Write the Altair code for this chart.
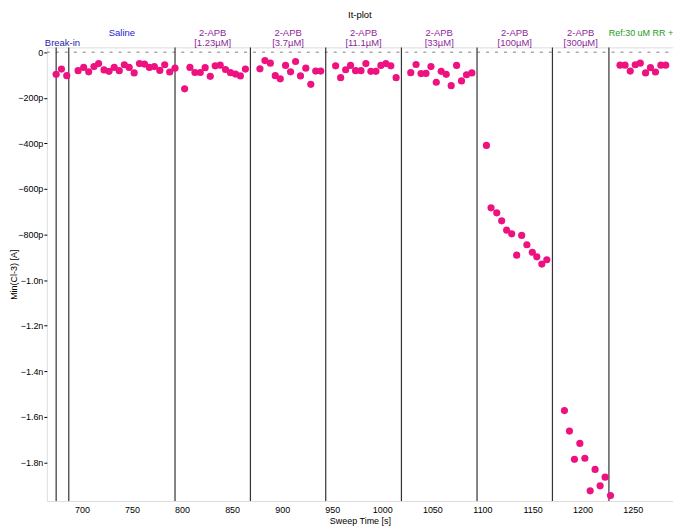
import altair as alt
import pandas as pd

# ---- data (sweep time [s], min current [pA]) ----
breakin_t = [674.3, 679.6, 684.9]
breakin_v = [-97, -74, -103]

saline_t = [696.2, 701.8, 706.8, 712.1, 716.7, 722.1, 727.1, 732.3, 737.3, 742.4,
            747.2, 752.2, 757.5, 762.5, 767.4, 772.4, 777.8, 782.7, 787.7, 793.0]
saline_v = [-81, -67, -86, -63, -50, -78, -84, -67, -81, -55,
            -67, -91, -50, -52, -67, -63, -80, -55, -87, -70]

apb1_t = [802.6, 807.9, 812.9, 818.2, 823.1, 828.2, 833.1, 838.1, 843.4, 848.4, 853.4, 858.3, 863.3]
apb1_v = [-161, -67, -89, -89, -68, -106, -60, -57, -76, -90, -96, -104, -74]

apb2_t = [877.8, 882.8, 888.2, 893.1, 898.1, 903.4, 908.4, 913.4, 918.3, 923.6, 928.6, 933.5, 938.5]
apb2_v = [-73, -37, -48, -103, -117, -58, -86, -41, -104, -70, -141, -83, -83]

apb3_t = [953.4, 958.4, 963.4, 968.3, 973.3, 978.7, 983.6, 988.6, 993.6, 998.6, 1003.5, 1008.5, 1013.8]
apb3_v = [-60, -112, -77, -58, -81, -81, -50, -84, -84, -58, -50, -60, -112]

apb4_t = [1028.4, 1033.7, 1038.7, 1043.6, 1048.6, 1053.9, 1058.8, 1063.8, 1068.8, 1074.2, 1079.1, 1084.1, 1089.4]
apb4_v = [-90, -54, -94, -93, -63, -132, -84, -97, -147, -58, -126, -99, -91]

apb5_t = [1104.0, 1108.6, 1114.3, 1119.2, 1124.2, 1129.2, 1134.2, 1139.2, 1144.4, 1149.8, 1154.3, 1159.3, 1164.3]
apb5_v = [-409, -683, -705, -740, -781, -797, -891, -804, -845, -878, -898, -930, -911]

apb6_t = [1181.9, 1186.9, 1191.9, 1197.3, 1202.3, 1207.6, 1212.5, 1217.5, 1222.5, 1227.9]
apb6_v = [-1573, -1663, -1787, -1717, -1782, -1925, -1831, -1903, -1865, -1946]

ref_t = [1237.4, 1242.4, 1247.6, 1252.6, 1257.6, 1262.9, 1267.8, 1272.8, 1278.2, 1283.0]
ref_v = [-57, -57, -83, -55, -48, -91, -68, -87, -57, -57]

# segment boundaries [s]
boundaries = [674.3, 686.9, 793.0, 868.3, 943.5, 1019.1, 1094.6, 1169.9, 1226.3]
x_min, x_max = 665.0, 1290.3

# segment labels
seg_line1 = ["", "Saline", "2-APB", "2-APB", "2-APB", "2-APB", "2-APB", "2-APB", "Ref:30 uM RR +"]
seg_line2 = ["Break-in", "", "[1.23µM]", "[3.7µM]", "[11.1µM]", "[33µM]", "[100µM]", "[300µM]", ""]
seg_color = ["#2323a8", "#2323c8", "#8e1f9a", "#8e1f9a", "#8e1f9a", "#8e1f9a", "#8e1f9a", "#8e1f9a", "#1a9a1a"]
seg_fsize = [9.5, 9.5, 9.5, 9.5, 9.5, 9.5, 9.5, 9.5, 9]

x_ticks = [700, 750, 800, 850, 900, 950, 1000, 1050, 1100, 1150, 1200, 1250]
y_ticks = [0, -200, -400, -600, -800, -1000, -1200, -1400, -1600, -1800]
y_min, y_max = -1970, 21

# ---- tables ----
t_all = breakin_t + saline_t + apb1_t + apb2_t + apb3_t + apb4_t + apb5_t + apb6_t + ref_t
v_all = breakin_v + saline_v + apb1_v + apb2_v + apb3_v + apb4_v + apb5_v + apb6_v + ref_v
pts = pd.DataFrame({"t": t_all, "v": v_all})

edges = boundaries + [x_max]
mids = [(edges[i] + edges[i + 1]) / 2 for i in range(len(boundaries))]
labels = pd.DataFrame({"t": mids, "l1": seg_line1, "l2": seg_line2, "c": seg_color, "fs": seg_fsize})
rules = pd.DataFrame({"t": boundaries})
zero = pd.DataFrame({"t": [x_min], "t2": [x_max], "v": [0]})

FONT = "Liberation Sans"
W, H = 628.7, 455.5

xs = alt.Scale(domain=[x_min, x_max], nice=False, zero=False)
ys = alt.Scale(domain=[y_min, y_max], nice=False, zero=False)

label_expr = ("datum.value == 0 ? '0' : (datum.value > -1000 ? format(datum.value, 'd') + 'p' : "
              "format(datum.value / 1000, '.1f') + 'n')")

x_enc = alt.X("t:Q", scale=xs, title="Sweep Time [s]",
              axis=alt.Axis(values=x_ticks, format="d", grid=False, domain=False, ticks=False,
                            labelFont=FONT, labelFontSize=9, labelColor="#000",
                            labelPadding=4, titleFont=FONT, titleFontSize=9,
                            titleFontWeight="normal", titleColor="#000", titlePadding=3))
y_enc = alt.Y("v:Q", scale=ys, title="Min(Cl-3) [A]",
              axis=alt.Axis(values=y_ticks, grid=False, domain=False, ticks=True, tickSize=3,
                            tickColor="#000", labelExpr=label_expr,
                            labelFont=FONT, labelFontSize=9, labelColor="#000", labelPadding=1,
                            titleFont=FONT, titleFontSize=9, titleFontWeight="normal",
                            titleColor="#000", titleX=-33, titleY=H / 2, titleAngle=270,
                            titleAlign="center", titleBaseline="middle"))

zero_line = alt.Chart(zero).mark_rule(color="#aaaaaa", strokeWidth=1.5, strokeDash=[3, 6]).encode(
    x=alt.X("t:Q", scale=xs), x2="t2:Q", y=alt.Y("v:Q", scale=ys))

vlines = alt.Chart(rules).mark_rule(color="#333333", strokeWidth=1.2).encode(
    x=alt.X("t:Q", scale=xs), y=alt.value(0), y2=alt.value(H))

points = alt.Chart(pts).mark_circle(size=52, color="#ee1280", opacity=1).encode(x=x_enc, y=y_enc)

txt1 = alt.Chart(labels).mark_text(font=FONT, baseline="alphabetic", align="center").encode(
    x=alt.X("t:Q", scale=xs), y=alt.value(-11), text="l1:N", color=alt.Color("c:N", scale=None),
    size=alt.Size("fs:Q", scale=None))
txt2 = alt.Chart(labels).mark_text(font=FONT, fontSize=9.5, baseline="alphabetic", align="center").encode(
    x=alt.X("t:Q", scale=xs), y=alt.value(-1), text="l2:N", color=alt.Color("c:N", scale=None))

chart = alt.layer(zero_line, vlines, points, txt1, txt2).properties(
    width=W, height=H,
    title=alt.TitleParams("It-plot", font=FONT, fontSize=9.5, fontWeight="normal", color="#000",
                          anchor="middle", offset=9),
    autosize=alt.AutoSizeParams(type="none"),
    padding={"left": 39, "top": 38.5, "right": 0, "bottom": 30},
).configure_view(stroke="#222222", strokeWidth=1).configure(background="white")

chart.save("out.html", embed_options={"renderer": "svg", "actions": False})
